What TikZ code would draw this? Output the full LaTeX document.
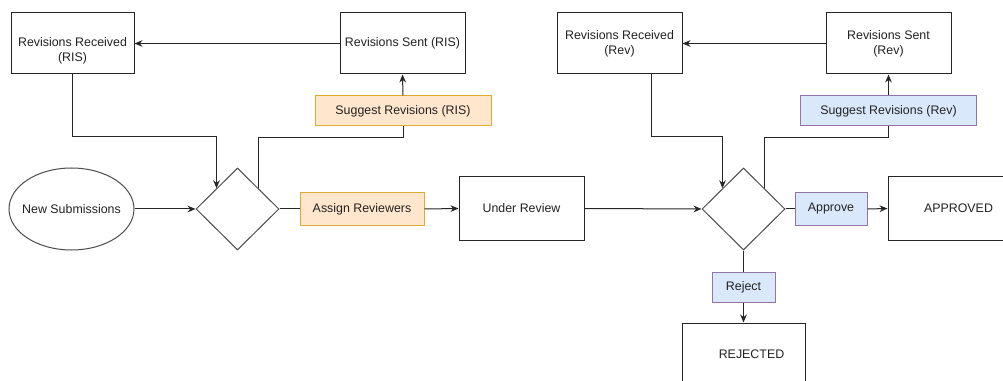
\documentclass[tikz,border=0pt]{standalone}
\usepackage{fontspec}
\setmainfont{Liberation Sans}
\usetikzlibrary{shapes.geometric,arrows.meta,calc}
\definecolor{orfill}{HTML}{FFE6CC}
\definecolor{ordraw}{HTML}{DDAA33}
\definecolor{blfill}{HTML}{DAE8FC}
\definecolor{bldraw}{HTML}{9673A6}
\definecolor{ink}{HTML}{222222}
\begin{document}
\begin{tikzpicture}[x=0.75pt,y=-0.75pt,
  every node/.style={font=\fontsize{9.3}{11.3}\selectfont, text=ink, inner sep=0pt, align=center},
  box/.style={draw=black!85, line width=0.75pt, rectangle, minimum width=93.75pt, minimum height=45.75pt},
  orbox/.style={draw=ordraw, fill=orfill, line width=0.75pt, rectangle, minimum height=22.5pt},
  blbox/.style={draw=bldraw, fill=blfill, line width=0.75pt, rectangle, minimum height=22.5pt},
  dia/.style={draw=black!70, line width=0.75pt, diamond, minimum width=62.25pt, minimum height=61.5pt},
  conn/.style={draw=black!85, line width=0.75pt},
  arr/.style={conn, -{Stealth[length=6pt,width=5pt]}}]
\clip (0,0) rectangle (1003,381);
\fill[white] (0,0) rectangle (1003,381);
% left part
\node[box, minimum width=92.25pt] (rrA) at (72.5,43.5) {\raisebox{-5.5pt}[\height][\depth]{\begin{tabular}{@{}c@{}}Revisions Received\\(RIS)\end{tabular}}};
\node[box] (rsA) at (402.5,43.5) {Revisions Sent (RIS)};
\node[orbox, minimum width=132pt] (sugA) at (403,111) {Suggest Revisions (RIS)};
\node[ellipse, draw=black!70, line width=0.75pt, minimum width=93.75pt, minimum height=61.5pt] (ns) at (71.5,209) {\makebox[40pt]{New Submissions}};
\node[dia] (d1) at (237.5,209) {};
\node[orbox, minimum width=93pt, minimum height=24pt] (assign) at (362,209) {Assign Reviewers};
\node[box, minimum height=47.25pt] (under) at (521.5,208.5) {Under Review};
% right part
\node[box] (rrB) at (619.5,43.5) {Revisions Received\\(Rev)};
\node[box] (rsB) at (888.5,43.5) {Revisions Sent\\(Rev)};
\node[blbox, minimum width=132pt] (sugB) at (888.5,111) {Suggest Revisions (Rev)};
\node[dia] (d2) at (743.5,209) {};
\node[blbox, minimum width=54pt, minimum height=24pt] (approve) at (831,209) {Approve};
\node[box, minimum height=47.25pt] (approved) at (950.5,208.5) {\hspace*{12pt}APPROVED};
\node[blbox, minimum width=47.25pt] (reject) at (743.5,287) {Reject};
\node[box, minimum width=92.25pt, minimum height=47.25pt] (rejected) at (743.5,354.5) {\hspace*{12pt}REJECTED};
% connectors left
\draw[arr] (rsA.west) -- (rrA.east);
\draw[arr] (sugA.north) -- (rsA.south);
\draw[arr] (rrA.south) |- ($(d1.north west)+(0,-51.5)$) -- (d1.north west);
\draw[conn] (d1.north east) |- ($(sugA.south)+(0,11)$) -- (sugA.south);
\draw[arr] (ns.east) -- (d1.west);
\draw[conn] (d1.east) -- (assign.west);
\draw[arr] (assign.east) -- (under.west);
\draw[arr] (under.east) -- (d2.west);
% connectors right
\draw[arr] (rsB.west) -- (rrB.east);
\draw[arr] (sugB.north) -- (rsB.south);
\draw[arr] ($(rrB.south)+(31.5,0)$) |- ($(d2.north west)+(0,-51.5)$) -- (d2.north west);
\draw[conn] (d2.north east) |- ($(sugB.south)+(0,11)$) -- (sugB.south);
\draw[conn] (d2.east) -- (approve.west);
\draw[arr] (approve.east) -- (approved.west);
\draw[conn] (d2.south) -- (reject.north);
\draw[arr] (reject.south) -- (rejected.north);
\end{tikzpicture}
\end{document}
